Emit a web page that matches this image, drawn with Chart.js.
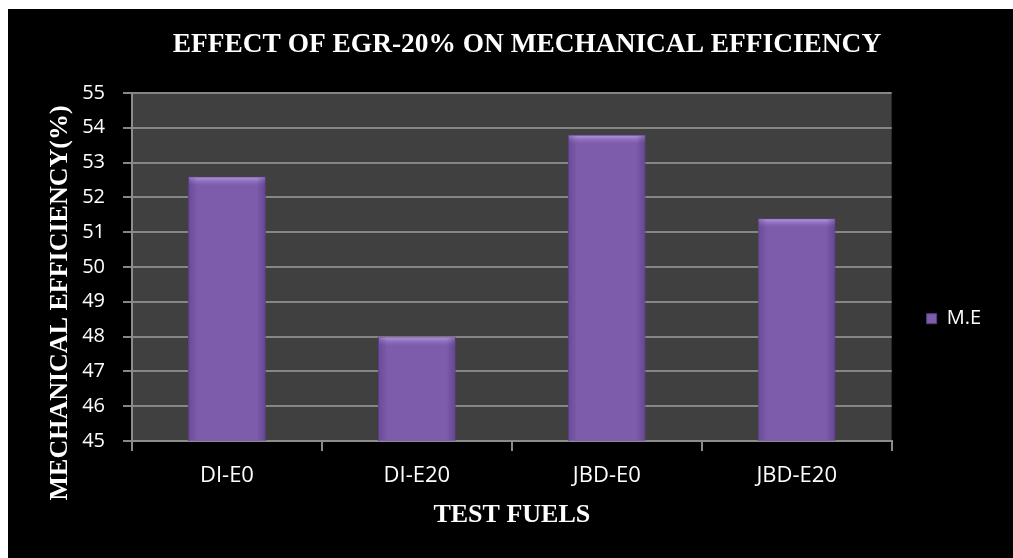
<!DOCTYPE html>
<html>
<head>
<meta charset="utf-8">
<script src="https://cdn.jsdelivr.net/npm/chart.js@4.4.0/dist/chart.umd.min.js"></script>
<style>
  html, body { margin: 0; padding: 0; background: #ffffff; }
  #wrap { position: absolute; left: 8px; top: 9px; width: 1005px; height: 549px; background: #000000; }
</style>
</head>
<body>
<div id="wrap"><canvas id="chart-canvas" width="1005" height="549"></canvas></div>
<script>
// chart data
const fuels = ["DI-E0", "DI-E20", "JBD-E0", "JBD-E20"];
const mechEff = [52.6, 48.0, 53.8, 51.4];
const seriesName = "M.E";
const yMin = 45, yMax = 55, yStep = 1;
const yTitle = "MECHANICAL EFFICIENCY(%)";

// paint the dark plot background
const plotBg = {
    id: "plotBg",
    beforeDraw(chart) {
        const a = chart.chartArea;
        const ctx = chart.ctx;
        ctx.save();
        ctx.fillStyle = "#404040";
        ctx.fillRect(a.left, a.top, a.right - a.left, a.bottom - a.top);
        ctx.restore();
    }
};

// light bevel along the top of each bar, darker sides
const barBevel = {
    id: "barBevel",
    afterDatasetsDraw(chart) {
        const ctx = chart.ctx;
        const bottom = chart.scales.y.getPixelForValue(yMin);
        chart.getDatasetMeta(0).data.forEach(bar => {
            const left = bar.x - bar.width / 2;
            const g = ctx.createLinearGradient(0, bar.y, 0, bar.y + 9);
            g.addColorStop(0, "rgba(190,160,235,0.95)");
            g.addColorStop(1, "rgba(150,120,200,0)");
            ctx.save();
            ctx.fillStyle = g;
            ctx.fillRect(left + 1, bar.y + 1, bar.width - 2, 9);
            const s = ctx.createLinearGradient(left, 0, left + bar.width, 0);
            s.addColorStop(0, "rgba(70,40,110,0.35)");
            s.addColorStop(0.12, "rgba(70,40,110,0)");
            s.addColorStop(0.88, "rgba(70,40,110,0)");
            s.addColorStop(1, "rgba(70,40,110,0.45)");
            ctx.fillStyle = s;
            ctx.fillRect(left + 1, bar.y + 1, bar.width - 2, bottom - bar.y - 2);
            ctx.restore();
        });
    }
};

// y axis title sits a bit below the plot centre in the original
const yAxisTitle = {
    id: "yAxisTitle",
    afterDraw(chart) {
        const ctx = chart.ctx;
        const a = chart.chartArea;
        ctx.save();
        ctx.translate(52, (a.top + a.bottom) / 2 + 36);
        ctx.rotate(-Math.PI / 2);
        ctx.fillStyle = "#ffffff";
        ctx.font = "bold 26px 'Liberation Serif'";
        ctx.textAlign = "center";
        ctx.textBaseline = "middle";
        ctx.fillText(yTitle, 0, 0);
        ctx.restore();
    }
};

const ctx = document.getElementById("chart-canvas");
new Chart(ctx, {
    type: "bar",
    data: {
        labels: fuels,
        datasets: [{
            label: seriesName,
            data: mechEff,
            backgroundColor: "#7c5cab",
            borderColor: "#5a3d86",
            borderWidth: 1,
            barPercentage: 0.41,
            categoryPercentage: 1
        }]
    },
    options: {
        responsive: false,
        animation: false,
        layout: { padding: { left: 55, right: 22, top: 0, bottom: 0 } },
        plugins: {
            title: {
                display: true,
                text: "EFFECT OF EGR-20% ON MECHANICAL EFFICIENCY",
                color: "#ffffff",
                font: { family: "Liberation Serif", size: 27.4, weight: "bold" },
                padding: { top: 19, bottom: 32 }
            },
            legend: {
                position: "right",
                // empty title only pushes the single entry a little lower
                title: { display: true, text: " ", color: "#000000", padding: { top: 28, bottom: 28 } },
                labels: {
                    color: "#ffffff",
                    font: { family: "Open Sans", size: 20 },
                    boxWidth: 10,
                    boxHeight: 10,
                    padding: 35
                }
            },
            tooltip: { enabled: false }
        },
        scales: {
            x: {
                afterFit: s => { s.height = 117; },
                grid: { drawOnChartArea: false, color: "#8c8c8c", lineWidth: 2, tickLength: 10 },
                border: { color: "#8c8c8c", width: 2 },
                ticks: { color: "#ffffff", font: { family: "Open Sans", size: 22 }, padding: 12 },
                title: {
                    display: true,
                    text: "TEST FUELS",
                    color: "#ffffff",
                    font: { family: "Liberation Serif", size: 26, weight: "bold" },
                    padding: { top: 0, bottom: 27 }
                }
            },
            y: {
                min: yMin,
                max: yMax,
                afterFit: s => { s.width = 69; },
                grid: { color: "#868686", lineWidth: 2, tickLength: 9 },
                border: { color: "#8c8c8c", width: 2 },
                ticks: { stepSize: yStep, color: "#ffffff", font: { family: "Open Sans", size: 20 }, padding: 18 }
            }
        }
    },
    plugins: [plotBg, barBevel, yAxisTitle]
});
</script>
</body>
</html>
